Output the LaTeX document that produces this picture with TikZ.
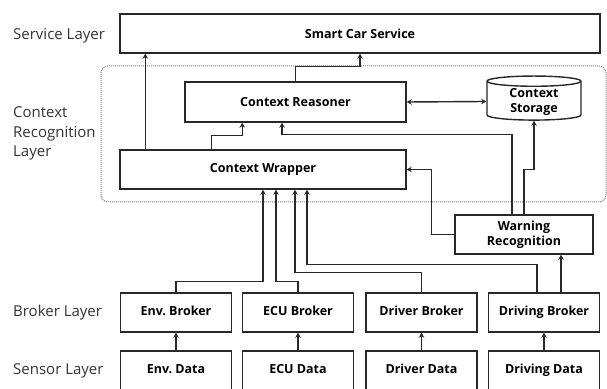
\documentclass[tikz,border=0pt]{standalone}
\usepackage{fontspec}
\setmainfont{Open Sans}
\usetikzlibrary{arrows.meta,shapes.geometric}
\definecolor{linegray}{RGB}{40,40,40}

\begin{document}
\begin{tikzpicture}[x=1pt,y=1pt,
    box/.style={draw=linegray,line width=1.4pt,fill=white,minimum height=39pt,inner sep=1pt,
      align=center,font=\fontsize{12.5}{15}\selectfont\bfseries},
    layer/.style={anchor=west,align=left,text=black!80,inner sep=0pt,font=\fontsize{15}{19.5}\selectfont},
    arr/.style={draw=linegray,line width=1.4pt,-{Stealth[length=5pt,width=5.5pt]}},
    dbl/.style={draw=linegray,line width=1.4pt,{Stealth[length=5pt,width=5.5pt]}-{Stealth[length=5pt,width=5.5pt]}}]
  \useasboundingbox (0,0) rectangle (607,388);
  \draw[densely dotted,gray,line width=1pt,rounded corners=7pt] (101,186) rectangle (606,322);

  \node[layer] (lsvc) at (13,352) {Service Layer};
  \node[layer] (lctx) at (13,254.5) {Context\\Recognition\\Layer};
  \node[layer] (lbrk) at (13,75) {Broker Layer};
  \node[layer] (lsen) at (13,17) {Sensor Layer};

  \node[box,minimum width=480pt] (svc) at (360,354.5) {Smart Car Service};
  \node[box,minimum width=221pt,minimum height=40pt] (reas) at (295.5,286) {Context Reasoner};
  \node[cylinder,shape border rotate=90,draw=linegray,line width=1.4pt,aspect=0.2,inner sep=1pt,
    minimum width=94pt,minimum height=43pt,align=center,font=\fontsize{12.5}{15}\selectfont\bfseries]
    (stor) at (534,286.5) {Context\\Storage};
  \node[box,minimum width=286pt] (wrap) at (263,218.5) {Context Wrapper};
  \node[box,minimum width=138pt] (warn) at (524,153.5) {Warning\\Recognition};

  \foreach \n/\x/\t in {env/176/Env., ecu/298/ECU, drv/421.5/Driver, dvg/544/Driving}{
    \node[box,minimum width=111pt,text height=9pt,text depth=3pt] (\n) at (\x,75.5) {\t\ Broker};
    \node[box,minimum width=111pt,text height=9pt,text depth=3pt] (\n-d) at (\x,17.5) {\t\ Data};
    \draw[arr] (\n-d) -- (\n);
  }

  \draw[arr] ([xshift=26pt]wrap.north west) -- ([xshift=26pt]svc.south west);
  \draw[arr] (reas.north) -- ++(0,15) -| (svc.south);
  \draw[arr] ([xshift=92pt]wrap.north west) -- ++(0,14) -| ([xshift=58pt]reas.south west);
  \draw[dbl] (reas.east) -- (stor.west);
  \draw[arr] ([xshift=-12pt]warn.north) -- ++(0,80) -| ([xshift=-13.5pt]reas.south);
  \draw[arr] (warn.north) -- ++(0,45) -| (stor.south);
  \draw[arr] (warn.west) -- ++(-23,0) |- (wrap.east);

  \draw[arr] (env.north) -- ++(0,11) -| (wrap.south);
  \draw[arr] (ecu.north) -- ++(0,11) -| ([xshift=13pt]wrap.south);
  \draw[arr] (drv.north) -- ++(0,20) -| ([xshift=32pt]wrap.south);
  \draw[arr] ([xshift=-7pt]dvg.north) -- ++(0,28) -| ([xshift=44pt]wrap.south);
  \coordinate (dvgup) at ([xshift=17pt]dvg.north);
  \draw[arr] (dvgup) -- (dvgup |- warn.south);
\end{tikzpicture}
\end{document}
